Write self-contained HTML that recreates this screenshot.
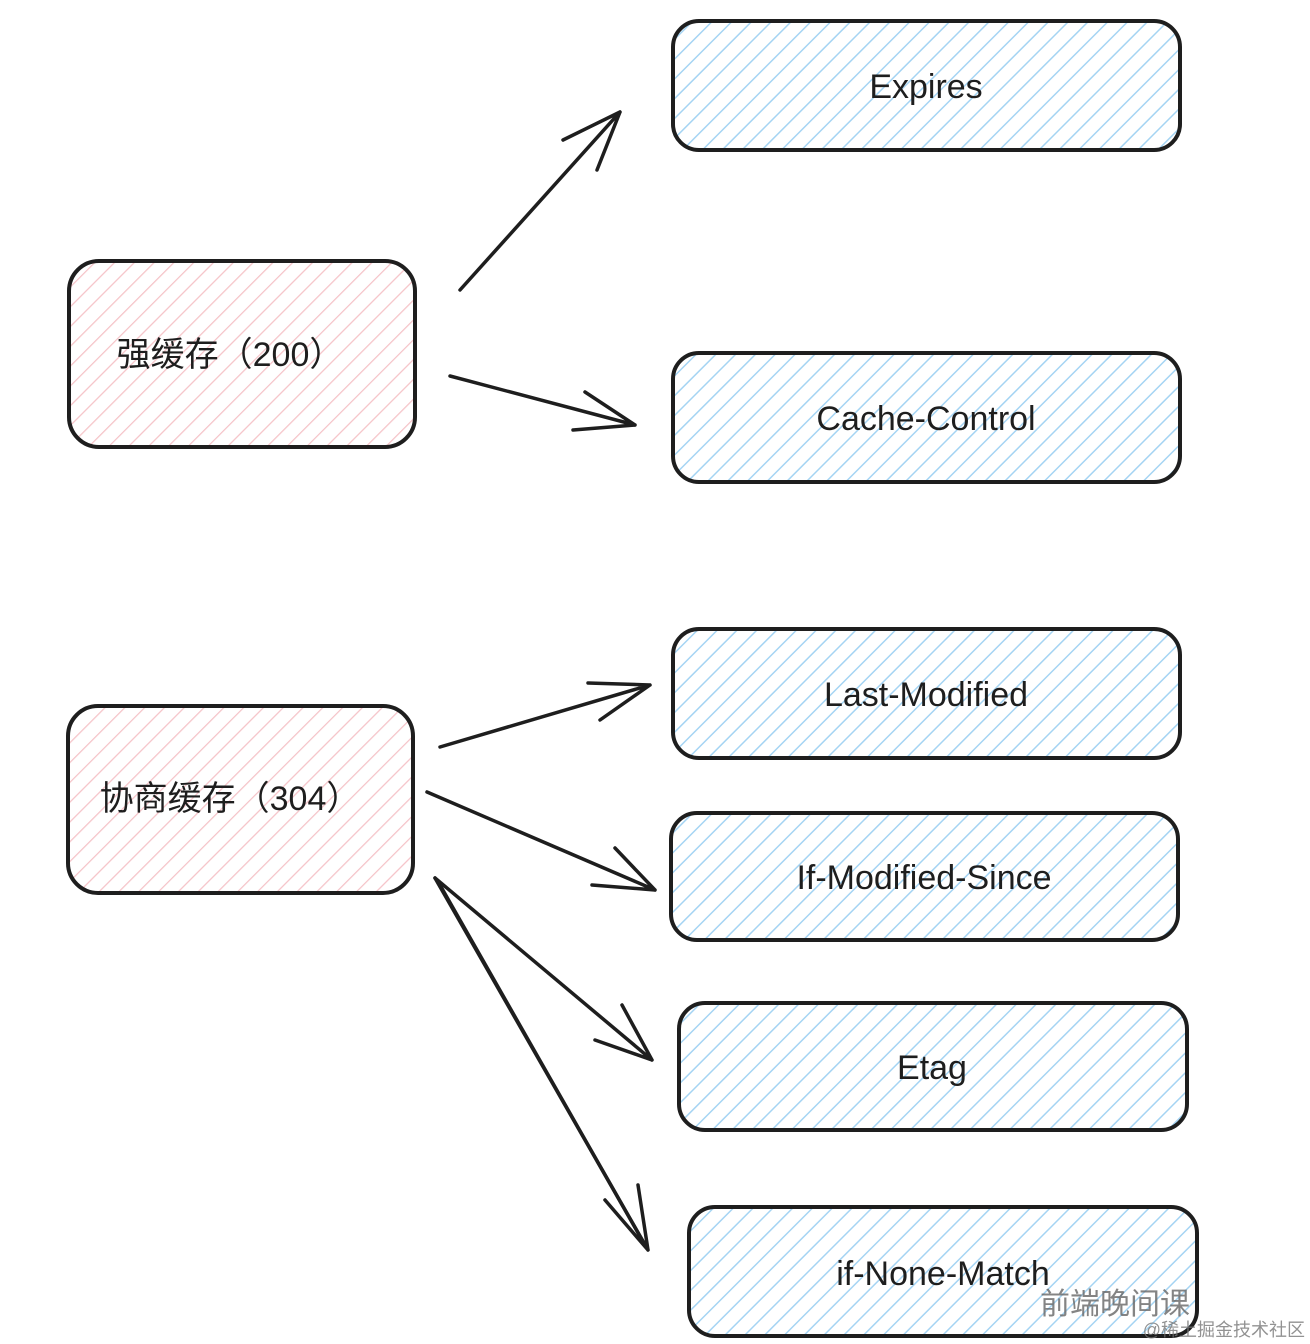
<!DOCTYPE html>
<html><head><meta charset="utf-8"><style>
html,body{margin:0;padding:0;background:#fff;}
svg{display:block}
text{font-family:"Liberation Sans","Noto Sans CJK SC",sans-serif;}
</style></head><body>
<svg width="1310" height="1344" viewBox="0 0 1310 1344" xmlns="http://www.w3.org/2000/svg">
<defs>
<pattern id="hb" patternUnits="userSpaceOnUse" width="14" height="14" patternTransform="rotate(45)">
<rect width="14" height="14" fill="#fff"/><line x1="0" y1="0" x2="0" y2="14" stroke="#a5d4f3" stroke-width="3"/></pattern>
<pattern id="hp" patternUnits="userSpaceOnUse" width="14" height="14" patternTransform="rotate(45)">
<rect width="14" height="14" fill="#fff"/><line x1="0" y1="0" x2="0" y2="14" stroke="#f5c3c8" stroke-width="2.5"/></pattern>
</defs>
<rect width="1310" height="1344" fill="#fff"/>
<g stroke="#1e1e1e" stroke-width="4" fill="none">
<rect x="69" y="261" width="346" height="186" rx="30" fill="url(#hp)"/>
<rect x="68" y="706" width="345" height="187" rx="30" fill="url(#hp)"/>
<rect x="673" y="21" width="507" height="129" rx="26" fill="url(#hb)"/>
<rect x="673" y="353" width="507" height="129" rx="26" fill="url(#hb)"/>
<rect x="673" y="629" width="507" height="129" rx="26" fill="url(#hb)"/>
<rect x="671" y="813" width="507" height="127" rx="26" fill="url(#hb)"/>
<rect x="679" y="1003" width="508" height="127" rx="26" fill="url(#hb)"/>
<rect x="689" y="1207" width="508" height="129" rx="26" fill="url(#hb)"/>
</g>
<g stroke="#1e1e1e" stroke-width="3.5" fill="none" stroke-linecap="round">
<path d="M460 290 L620 112 M620 112 L563 140 M620 112 L597 170"/>
<path d="M450 376 L635 425 M635 425 L585 392 M635 425 L573 430"/>
<path d="M440 747 L650 685 M650 685 L588 683 M650 685 L600 720"/>
<path d="M427 792 L655 890 M655 890 L615 848 M655 890 L592 885"/>
<path d="M435 878 L652 1060 M652 1060 L622 1005 M652 1060 L595 1040"/>
<path d="M435 878 L648 1250 M648 1250 L638 1185 M648 1250 L605 1200"/>
<path d="M440 885 L645 1245"/>
</g>
<g font-size="34" fill="#1e1e1e" text-anchor="middle">
<text x="230" y="366">强缓存（200）</text>
<text x="230" y="810">协商缓存（304）</text>
<text x="926" y="98">Expires</text>
<text x="926" y="430">Cache-Control</text>
<text x="926" y="706">Last-Modified</text>
<text x="924" y="889">If-Modified-Since</text>
<text x="932" y="1079">Etag</text>
<text x="943" y="1285">if-None-Match</text>
</g>
<text x="1040" y="1314" font-size="30" fill="#666" opacity="0.8">前端晚间课</text>
<text x="1305" y="1336" font-size="18" fill="#777" opacity="0.8" text-anchor="end">@稀土掘金技术社区</text>
</svg>
</body></html>
